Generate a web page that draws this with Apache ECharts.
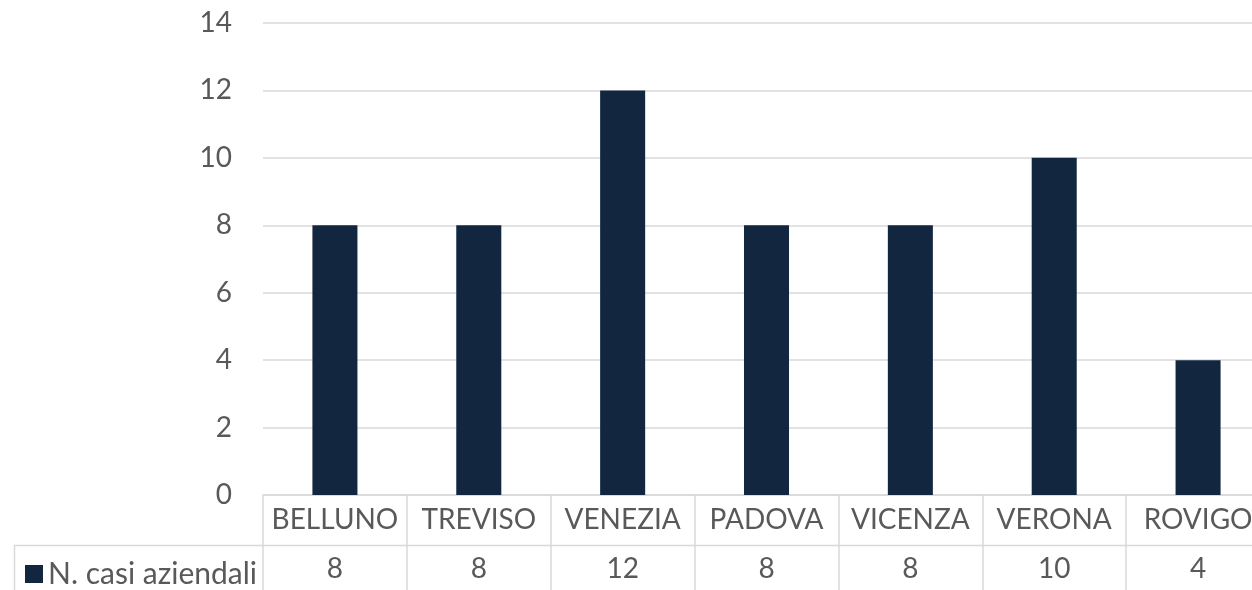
<!DOCTYPE html>
<html>
<head>
<meta charset="utf-8">
<script src="https://cdn.jsdelivr.net/npm/echarts@6/dist/echarts.min.js"></script>
<style>html,body{margin:0;padding:0;background:#fff;overflow:hidden;width:1252px;height:590px;}#c{width:1270px;height:590px;}</style>
</head>
<body>
<div id="c"></div>
<script>
const categories = ['BELLUNO', 'TREVISO', 'VENEZIA', 'PADOVA', 'VICENZA', 'VERONA', 'ROVIGO'];
const values = [8, 8, 12, 8, 8, 10, 4];
const seriesName = 'N. casi aziendali';
const yTicks = { min: 0, max: 14, interval: 2 };

const FONT = 'Lato';
const TXT = '#595959';
const LINE = '#d9d9d9';
const FS = 28;

const chart = echarts.init(document.getElementById('c'));
chart.setOption({
  animation: false,
  textStyle: { fontFamily: FONT },
  grid: [
    { left: 263, right: 0, top: 23, bottom: 95 },
    { left: 263, right: 0, top: 495, bottom: 0 }
  ],
  legend: {
    left: 20, top: 554, icon: 'rect', itemWidth: 18, itemHeight: 18,
    textStyle: { fontSize: 30, color: TXT, fontFamily: FONT },
    data: [seriesName]
  },
  xAxis: [
    {
      type: 'category', gridIndex: 0, data: categories,
      axisLine: { lineStyle: { color: LINE, width: 1.5 } },
      axisTick: { show: false },
      axisLabel: { fontSize: FS, color: TXT, margin: 10, lineHeight: 30, fontFamily: FONT, interval: 0 }
    },
    {
      type: 'category', gridIndex: 1, data: categories,
      axisLine: { show: false }, axisTick: { show: false },
      splitLine: { show: true, lineStyle: { color: LINE, width: 1.5 } },
      axisLabel: {
        inside: true, margin: 6, fontSize: FS, color: TXT, lineHeight: 30, fontFamily: FONT, interval: 0,
        formatter: (v, i) => String(values[i])
      }
    }
  ],
  yAxis: [
    {
      type: 'value', gridIndex: 0, min: yTicks.min, max: yTicks.max, interval: yTicks.interval,
      axisLine: { show: false }, axisTick: { show: false },
      axisLabel: { fontSize: FS, color: TXT, margin: 31, fontFamily: FONT },
      splitLine: { lineStyle: { color: LINE, width: 1.5 } }
    },
    { type: 'value', gridIndex: 1, min: 0, max: 1, show: false }
  ],
  graphic: [
    { type: 'line', shape: { x1: 14, y1: 545.5, x2: 1270, y2: 545.5 }, style: { stroke: LINE, lineWidth: 1.5 } },
    { type: 'line', shape: { x1: 14.5, y1: 545, x2: 14.5, y2: 590 }, style: { stroke: LINE, lineWidth: 1.5 } }
  ],
  series: [
    {
      name: seriesName, type: 'bar', xAxisIndex: 0, yAxisIndex: 0,
      data: values, barWidth: '31.3%',
      itemStyle: { color: '#12263F' }
    }
  ]
});
</script>
</body>
</html>
